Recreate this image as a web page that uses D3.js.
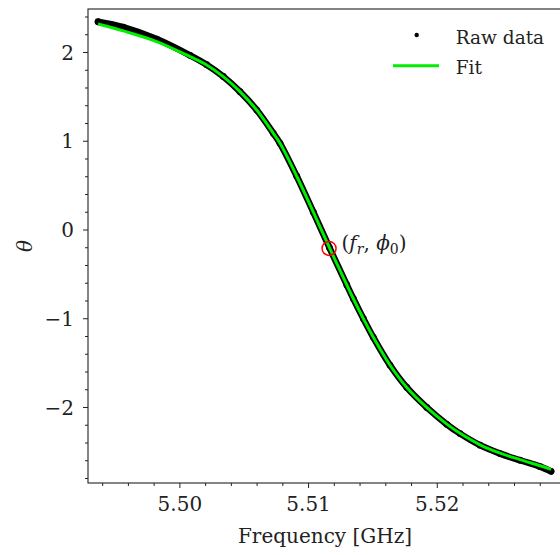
<!DOCTYPE html>
<html>
<head>
<meta charset="utf-8">
<script src="https://cdn.jsdelivr.net/npm/d3@7"></script>
<style>
  body { margin: 0; background: #fff; }
</style>
</head>
<body>
<div id="chart"></div>
<script>
// values
var freq = [5.49368, 5.49564, 5.49824, 5.50083, 5.50212, 5.50341, 5.50471, 5.50601, 5.50730,
            5.50782, 5.50912, 5.51041, 5.51166, 5.51301, 5.51352, 5.51430, 5.51507, 5.51637,
            5.51767, 5.51922, 5.52078, 5.52181, 5.52336, 5.52492, 5.52647, 5.52803, 5.52888];
var rawTheta = [2.341, 2.280, 2.146, 1.962, 1.857, 1.724, 1.553, 1.346, 1.084,
                0.971, 0.600, 0.195, -0.205, -0.625, -0.780, -1.005, -1.215, -1.530,
                -1.780, -2.005, -2.195, -2.300, -2.430, -2.525, -2.600, -2.672, -2.725];
var fitTheta = [2.315, 2.238, 2.118, 1.947, 1.853, 1.722, 1.553, 1.346, 1.084,
                0.971, 0.600, 0.195, -0.205, -0.625, -0.780, -1.005, -1.215, -1.530,
                -1.780, -2.005, -2.193, -2.297, -2.426, -2.520, -2.593, -2.662, -2.703];
var resonance = {f: 5.51163, theta: -0.213};
var xMajor = [5.50, 5.51, 5.52];
var yMajor = [-2, -1, 0, 1, 2];

var font = "'DejaVu Serif', serif";
var fontSize = 20;

var svgWidth = 560, svgHeight = 555;
var margin = {top: 9, left: 88, bottom: 72, right: -2};
var width = svgWidth - margin.left - margin.right;
var height = svgHeight - margin.top - margin.bottom;

var svg = d3.select("#chart").append("svg")
  .attr("width", svgWidth)
  .attr("height", svgHeight)
  .attr("font-family", font);

var g = svg.append("g")
  .attr("transform", `translate(${margin.left}, ${margin.top})`);

var x = d3.scaleLinear().domain([5.4929, 5.52973]).range([0, width]);
var y = d3.scaleLinear().domain([-2.8564, 2.4845]).range([height, 0]);

// minor ticks
var xMinor = d3.range(5.494, 5.5285, 0.002).filter(v => !xMajor.some(m => Math.abs(m - v) < 1e-6));
var yMinor = d3.range(-2.8, 2.45, 0.2).filter(v => !yMajor.some(m => Math.abs(m - v) < 1e-6));

g.append("g").attr("transform", `translate(0, ${height})`)
  .call(d3.axisBottom(x).tickValues(xMinor).tickSize(3).tickFormat(""))
  .call(a => a.select(".domain").remove());
g.append("g")
  .call(d3.axisLeft(y).tickValues(yMinor).tickSize(3).tickFormat(""))
  .call(a => a.select(".domain").remove());

var xAxis = g.append("g").attr("transform", `translate(0, ${height})`)
  .call(d3.axisBottom(x).tickValues(xMajor).tickSize(5).tickPadding(9).tickFormat(d3.format(".2f")));
xAxis.select(".domain").remove();

var yAxis = g.append("g")
  .call(d3.axisLeft(y).tickValues(yMajor).tickSize(5).tickPadding(9).tickFormat(d => d < 0 ? "\u2212" + Math.abs(d) : d));
yAxis.select(".domain").remove();
yAxis.selectAll("text").attr("dy", "0.36em");

g.selectAll(".tick line").attr("stroke", "#222");

// frame
g.append("rect")
  .attr("width", width).attr("height", height)
  .attr("fill", "none").attr("stroke", "#222").attr("stroke-width", 1.1);

var pts = freq.map((f, i) => ({f: f, raw: rawTheta[i], fit: fitTheta[i]}));

// raw data (dense dots, drawn as a band)
g.append("path")
  .datum(pts)
  .attr("fill", "none")
  .attr("stroke", "#000")
  .attr("stroke-width", 6.5)
  .attr("stroke-linecap", "round")
  .attr("d", d3.line().x(d => x(d.f)).y(d => y(d.raw)).curve(d3.curveCatmullRom));

g.selectAll(".raw")
  .data(pts)
  .enter()
  .append("circle")
  .attr("cx", d => x(d.f))
  .attr("cy", d => y(d.raw))
  .attr("r", 3.4)
  .attr("fill", "#000");

// fit
g.append("path")
  .datum(pts)
  .attr("fill", "none")
  .attr("stroke", "#00ee00")
  .attr("stroke-width", 3)
  .attr("d", d3.line().x(d => x(d.f)).y(d => y(d.fit)).curve(d3.curveCatmullRom));

// resonance marker
g.append("circle")
  .attr("cx", x(resonance.f))
  .attr("cy", y(resonance.theta))
  .attr("r", 7)
  .attr("fill", "none")
  .attr("stroke", "#ff0000")
  .attr("stroke-width", 1.5);

var ann = g.append("text")
  .attr("x", x(resonance.f) + 12.5)
  .attr("y", y(resonance.theta) + 1.5);
ann.append("tspan").text("(");
ann.append("tspan").text("f").style("font-style", "italic");
ann.append("tspan").text("r").style("font-style", "italic").style("font-size", "14px").attr("dy", 4);
ann.append("tspan").text(", ").attr("dy", -4);
ann.append("tspan").text("\u03d5").style("font-style", "italic");
ann.append("tspan").text("0").style("font-size", "14px").attr("dy", 4);
ann.append("tspan").text(")").attr("dy", -4);

// legend
svg.append("circle").attr("cx", 416.7).attr("cy", 35).attr("r", 2.2).attr("fill", "#000");
svg.append("text").attr("class", "legend").attr("x", 455.7).attr("y", 44).text("Raw data");
svg.append("line").attr("x1", 393).attr("x2", 439).attr("y1", 65.7).attr("y2", 65.7)
  .attr("stroke", "#00ee00").attr("stroke-width", 3);
svg.append("text").attr("class", "legend").attr("x", 455.7).attr("y", 74).text("Fit");

// axis labels
svg.append("text")
  .attr("x", margin.left + width / 2)
  .attr("y", 543)
  .attr("text-anchor", "middle")
  .text("Frequency [GHz]");

svg.append("text")
  .attr("transform", "translate(32, 246) rotate(-90)")
  .attr("text-anchor", "middle")
  .style("font-style", "italic")
  .text("\u03b8");

svg.selectAll("text")
  .attr("font-family", font)
  .attr("font-size", fontSize)
  .attr("fill", "#222");
svg.selectAll(".legend").attr("font-size", 18.5);
</script>
</body>
</html>
